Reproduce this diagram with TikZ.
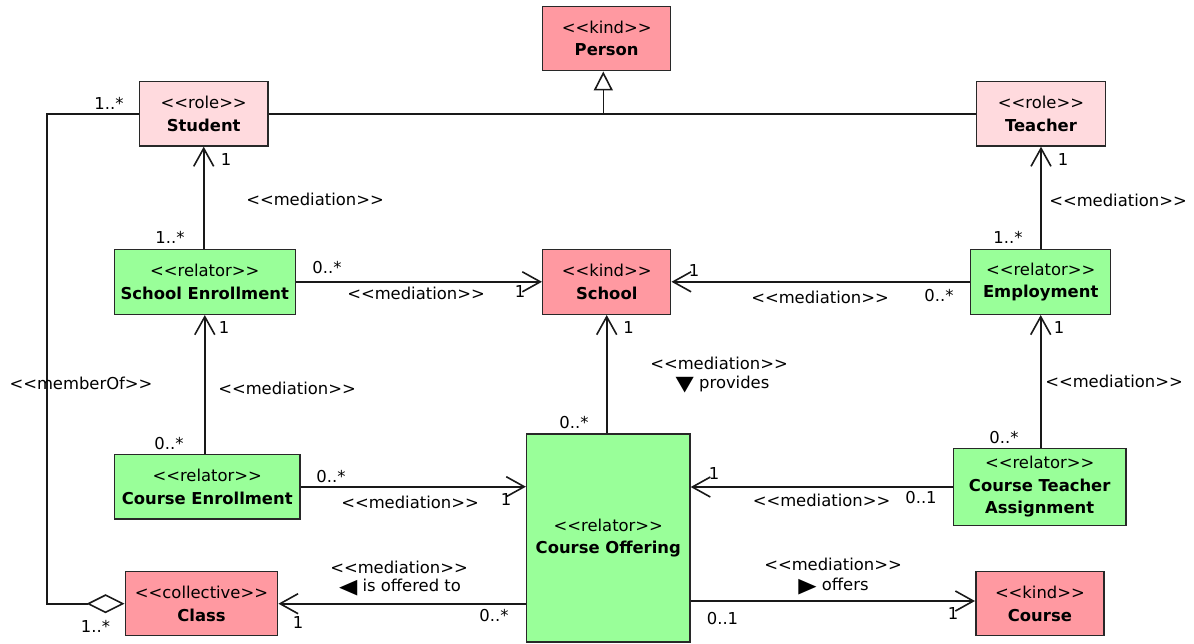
\documentclass[tikz,border=0pt]{standalone}
\usepackage{fontspec}
\setmainfont{DejaVu Sans}
\usetikzlibrary{arrows.meta}
\definecolor{kindc}{RGB}{255,153,161}
\definecolor{rolec}{RGB}{255,218,222}
\definecolor{relc}{RGB}{153,255,153}
\definecolor{edgec}{RGB}{40,40,40}
\newcommand\stereo[1]{<\kern0pt<#1>\kern0pt>}
\newcommand\bigtri[1]{\raisebox{-0.12em}{\scalebox{1.45}[1.25]{#1}}}
\begin{document}
\begin{tikzpicture}[x=1pt,y=-1pt,
  cls/.style={draw=edgec, line width=1.5pt, inner sep=0pt, align=center, font=\fontsize{16.4}{22.5}\selectfont},
  kindbox/.style={cls, fill=kindc},
  rolebox/.style={cls, fill=rolec},
  relbox/.style={cls, fill=relc},
  lbl/.style={inner sep=0pt, font=\fontsize{16.4}{19}\selectfont},
  conn/.style={line width=1.6pt, draw=black!90},
  med/.style={conn, -{Straight Barb[length=18pt,width=20pt]}}
]
\useasboundingbox (0,0) rectangle (1194,643);

% classes
\node[kindbox, minimum width=128pt, minimum height=64.4pt] (person) at (606.7,38.5) {\stereo{kind}\\\textbf{Person}};
\node[rolebox, minimum width=128.7pt, minimum height=64.3pt] (student) at (203.7,113.8) {\stereo{role}\\\textbf{Student}};
\node[rolebox, minimum width=128.6pt, minimum height=64.3pt] (teacher) at (1041,113.8) {\stereo{role}\\\textbf{Teacher}};
\node[relbox, minimum width=181pt, minimum height=65pt] (se) at (204.8,281.8) {\stereo{relator}\\\textbf{School Enrollment}};
\node[kindbox, minimum width=128pt, minimum height=65pt] (school) at (606.7,281.8) {\stereo{kind}\\\textbf{School}};
\node[relbox, minimum width=140pt, minimum height=65pt] (emp) at (1040.7,281.8) {\stereo{relator}\\\textbf{Employment}};
\node[relbox, minimum width=185.7pt, minimum height=64.7pt] (ce) at (207.2,486.7) {\stereo{relator}\\\textbf{Course Enrollment}};
\node[relbox, minimum width=163.3pt, minimum height=208pt] (co) at (608.3,538) {\stereo{relator}\\\textbf{Course Offering}};
\node[relbox, minimum width=172.7pt, minimum height=77.4pt] (cta) at (1039.7,487) {\stereo{relator}\\\textbf{Course Teacher}\\\textbf{Assignment}};
\node[kindbox, minimum width=152.4pt, minimum height=64pt] (class) at (201.5,603.7) {\stereo{collective}\\\textbf{Class}};
\node[kindbox, minimum width=128.3pt, minimum height=64pt] (course) at (1039.9,603.7) {\stereo{kind}\\\textbf{Course}};

% generalization
\draw[conn] (student.east) -- (teacher.west);
\coordinate (gen) at ([xshift=-3.4pt]person.south);
\draw[conn, -{Triangle[fill=white,length=19pt,width=19pt]}] (gen |- student.east) -- (gen);

% memberOf
\coordinate (mcorner) at (47,113.8);
\draw[conn, {Diamond[fill=white,length=38pt,width=19pt]}-] (class.west) -| (mcorner) -- (student.west);

% mediations
\draw[med] (se.north -| student.south) -- (student.south);
\draw[med] (se.east) -- (se.east -| school.west);
\draw[med] (emp.west) -- (emp.west -| school.east);
\draw[med] (emp.north -| teacher.south) -- (teacher.south);
\draw[med] (ce.north -| se.south) -- (se.south);
\draw[med] (co.north -| school.south) -- (school.south);
\draw[med] (cta.north -| emp.south) -- (emp.south);
\draw[med] (ce.east) -- (ce.east -| co.west);
\draw[med] (cta.west) -- (cta.west -| co.east);
\draw[med] (class.east -| co.west) -- (class.east);
\draw[med] ([yshift=2.7pt]course.west -| co.east) -- ([yshift=2.7pt]course.west);

% labels
\node[lbl] (l1) at (109,103.5) {1..*};
\node[lbl] (l2) at (95.5,626.5) {1..*};
\node[lbl] (l3) at (81,383) {\stereo{memberOf}};
\node[lbl] (l4) at (226,159.5) {1};
\node[lbl] (l5) at (315,199) {\stereo{mediation}};
\node[lbl] (l6) at (170,237) {1..*};
\node[lbl] (l7) at (327,267.5) {0..*};
\node[lbl] (l8) at (416,293.5) {\stereo{mediation}};
\node[lbl] (l9) at (520,292) {1};
\node[lbl] (l10) at (694,271) {1};
\node[lbl] (l11) at (820,297) {\stereo{mediation}};
\node[lbl] (l12) at (939,296) {0..*};
\node[lbl] (l13) at (1063,159.5) {1};
\node[lbl] (l14) at (1118,200) {\stereo{mediation}};
\node[lbl] (l15) at (1008,237) {1..*};
\node[lbl] (l16) at (224,327.5) {1};
\node[lbl] (l17) at (287,388) {\stereo{mediation}};
\node[lbl] (l18) at (169,444) {0..*};
\node[lbl] (l19) at (628.5,327.5) {1};
\node[lbl] (l20) at (719,363) {\stereo{mediation}};
\node[lbl] (l21) at (722.5,385) {\bigtri{▼} provides};
\node[lbl] (l22) at (574,423) {0..*};
\node[lbl] (l23) at (1059,327.5) {1};
\node[lbl] (l24) at (1114,381) {\stereo{mediation}};
\node[lbl] (l25) at (1004,437.5) {0..*};
\node[lbl] (l26) at (331,476.5) {0..*};
\node[lbl] (l27) at (410,502) {\stereo{mediation}};
\node[lbl] (l28) at (506,500) {1};
\node[lbl] (l29) at (714,474) {1};
\node[lbl] (l30) at (821.5,500) {\stereo{mediation}};
\node[lbl] (l31) at (921,497.5) {0..1};
\node[lbl] (l32) at (399,567) {\stereo{mediation}};
\node[lbl] (l33) at (400,588) {\bigtri{◀} is offered to};
\node[lbl] (l34) at (298,622.5) {1};
\node[lbl] (l35) at (494,616) {0..*};
\node[lbl] (l36) at (833,564) {\stereo{mediation}};
\node[lbl] (l37) at (833.5,586.5) {\bigtri{▶} offers};
\node[lbl] (l38) at (722.5,618.5) {0..1};
\node[lbl] (l39) at (953,614) {1};
\end{tikzpicture}
\end{document}
